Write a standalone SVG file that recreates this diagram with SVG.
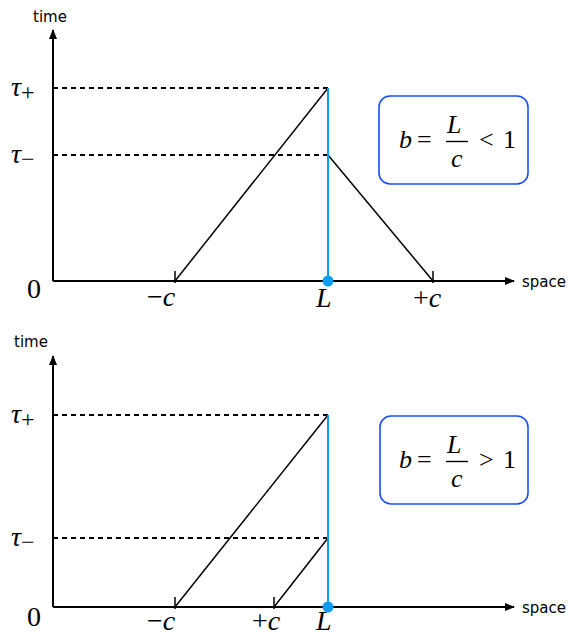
<svg xmlns="http://www.w3.org/2000/svg" width="584" height="637" viewBox="0 0 584 637">
<style>
.ax{stroke:#000;stroke-width:2;fill:none}
.ln{stroke:#000;stroke-width:1.5;fill:none}
.dash{stroke:#000;stroke-width:2;stroke-dasharray:5,4;fill:none}
.blue{stroke:#0a9cf5;stroke-width:2;fill:none}
.box{stroke:#1a4cff;stroke-width:1.6;fill:#fff}
.lab{font-family:"DejaVu Sans",sans-serif;font-size:15px}
.m{font-family:"Liberation Serif",serif;font-size:28px}
.mi{font-family:"Liberation Serif",serif;font-size:28px;font-style:italic}
.f{font-family:"Liberation Serif",serif;font-size:26px}
.fi{font-family:"Liberation Serif",serif;font-size:26px;font-style:italic}
.sub{font-style:normal;font-size:24px}
</style>
<defs>
<marker id="ar" markerWidth="10" markerHeight="8" refX="9" refY="4" orient="auto" markerUnits="userSpaceOnUse">
<path d="M0,0 L10,4 L0,8 Z" fill="#000"/>
</marker>
</defs>
<g id="top">
<g id="axes1">
<line class="ax" x1="53" y1="281" x2="53" y2="30" marker-end="url(#ar)"/>
<line class="ax" x1="53" y1="281" x2="514" y2="281" marker-end="url(#ar)"/>
<text class="lab" x="33" y="22">time</text>
<text class="lab" x="522" y="287">space</text>
<text class="m" x="27" y="298">0</text>
<text class="mi" x="11" y="96">τ<tspan class="sub" dy="4">+</tspan></text>
<text class="mi" x="11" y="163">τ<tspan class="sub" dy="4">−</tspan></text>
</g>
<g id="connectors1">
<line class="dash" x1="53" y1="88" x2="328" y2="88"/>
<line class="dash" x1="53" y1="155" x2="328" y2="155"/>
<line class="ln" x1="175" y1="281" x2="328" y2="88"/>
<line class="ln" x1="328" y1="155" x2="433" y2="281"/>
<line class="ln" x1="175" y1="271" x2="175" y2="283"/>
<line class="ln" x1="433" y1="271" x2="433" y2="283"/>
<line class="blue" x1="328" y1="88" x2="328" y2="281"/>
<circle cx="328" cy="281" r="5.5" fill="#0a9cf5"/>
</g>
<text class="m" x="147" y="306">−<tspan class="mi">c</tspan></text>
<text class="mi" x="316" y="307">L</text>
<text class="m" x="413" y="307">+<tspan class="mi">c</tspan></text>
<g id="box1">
<rect class="box" x="379" y="96" width="149" height="88" rx="11"/>
<text class="fi" x="399" y="148">b</text>
<text class="f" x="417" y="148">=</text>
<text class="fi" x="447" y="133">L</text>
<line x1="446" y1="141.5" x2="468" y2="141.5" stroke="#000" stroke-width="1.4"/>
<text class="fi" x="451" y="167">c</text>
<text class="f" x="479" y="148">&lt;</text>
<text class="f" x="503" y="148">1</text>
</g>
</g>
<g id="bottom">
<g id="axes2">
<line class="ax" x1="53" y1="607" x2="53" y2="356" marker-end="url(#ar)"/>
<line class="ax" x1="53" y1="607" x2="514" y2="607" marker-end="url(#ar)"/>
<text class="lab" x="14" y="347">time</text>
<text class="lab" x="522" y="613">space</text>
<text class="m" x="27" y="626">0</text>
<text class="mi" x="11" y="423">τ<tspan class="sub" dy="4">+</tspan></text>
<text class="mi" x="11" y="546">τ<tspan class="sub" dy="4">−</tspan></text>
</g>
<g id="connectors2">
<line class="dash" x1="53" y1="415" x2="328" y2="415"/>
<line class="dash" x1="53" y1="538" x2="328" y2="538"/>
<line class="ln" x1="175" y1="607" x2="328" y2="415"/>
<line class="ln" x1="274" y1="607" x2="328" y2="538"/>
<line class="ln" x1="175" y1="597" x2="175" y2="609"/>
<line class="ln" x1="274" y1="597" x2="274" y2="609"/>
<line class="blue" x1="328" y1="415" x2="328" y2="607"/>
<circle cx="328" cy="607" r="5.5" fill="#0a9cf5"/>
</g>
<text class="m" x="147" y="630">−<tspan class="mi">c</tspan></text>
<text class="mi" x="316" y="630">L</text>
<text class="m" x="252" y="630">+<tspan class="mi">c</tspan></text>
<g id="box2">
<rect class="box" x="380" y="416" width="148" height="88" rx="11"/>
<text class="fi" x="399" y="468">b</text>
<text class="f" x="417" y="468">=</text>
<text class="fi" x="447" y="453">L</text>
<line x1="446" y1="461.5" x2="468" y2="461.5" stroke="#000" stroke-width="1.4"/>
<text class="fi" x="451" y="487">c</text>
<text class="f" x="479" y="468">&gt;</text>
<text class="f" x="503" y="468">1</text>
</g>
</g>
</svg>
